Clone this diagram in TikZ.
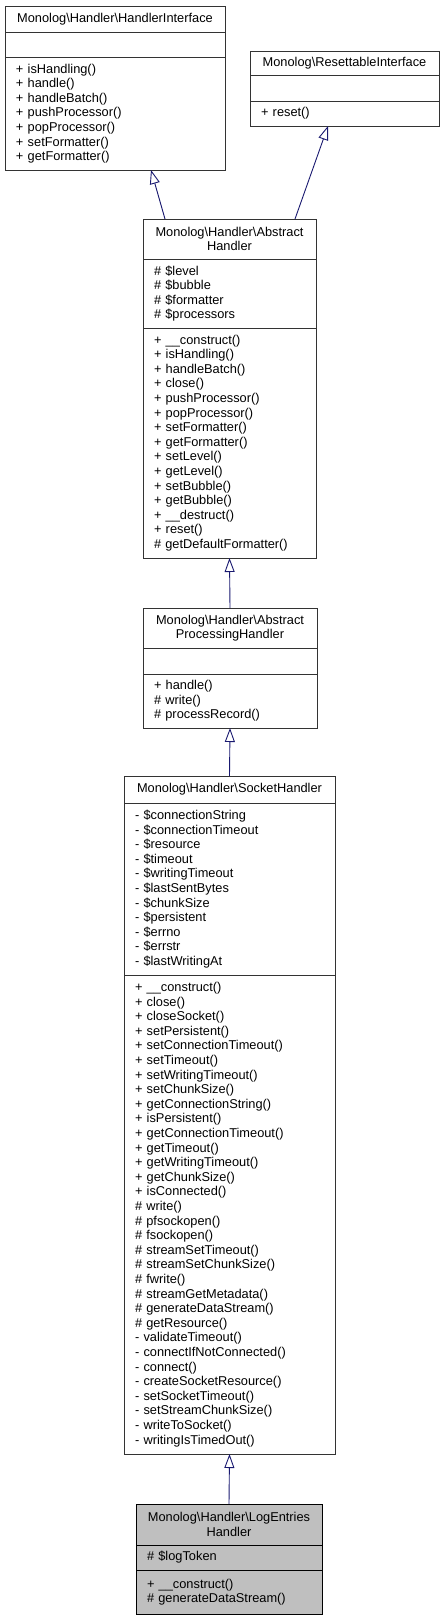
\documentclass[tikz,border=0pt]{standalone}
\usepackage{fontspec}
\setmainfont{Liberation Sans}
\usetikzlibrary{arrows.meta}
\definecolor{edgeblue}{HTML}{191970}
\definecolor{curgray}{HTML}{BFBFBF}
\newcommand{\umlfont}{\fontsize{12.8}{14.6}\selectfont}
\tikzset{classpart/.style={draw=black!80, line width=0.9pt, anchor=north west,
    inner xsep=11pt, inner ysep=0pt, outer sep=0pt, align=left, font=\umlfont}}
\tikzset{classhead/.style={classpart, align=center}}
\tikzset{inherit/.style={draw=edgeblue, line width=0.9pt,
    -{Triangle[open, length=14pt, width=10pt]}}}

\begin{document}
\begin{tikzpicture}[x=1pt,y=-1pt]
\useasboundingbox (0,0) rectangle (445,1616);
% interfaces
\node[classhead, text width=198pt, minimum height=26pt] (hiT) at (5,6) {Monolog\textbackslash Handler\textbackslash HandlerInterface};
\node[classpart, text width=198pt, minimum height=25pt] (hiA) at (hiT.south west) {};
\node[classpart, text width=198pt, minimum height=113pt] (hiM) at (hiA.south west) {+ isHandling()\\+ handle()\\+ handleBatch()\\+ pushProcessor()\\+ popProcessor()\\+ setFormatter()\\+ getFormatter()};
\node[classhead, text width=167pt, minimum height=24pt] (riT) at (250,51) {Monolog\textbackslash ResettableInterface};
\node[classpart, text width=167pt, minimum height=26pt] (riA) at (riT.south west) {};
\node[classpart, text width=167pt, minimum height=25pt] (riM) at (riA.south west) {+ reset()};
% abstract handler
\node[classhead, text width=151pt, minimum height=40pt] (ahT) at (143,219) {Monolog\textbackslash Handler\textbackslash Abstract\\Handler};
\node[classpart, text width=151pt, minimum height=69pt] (ahA) at (ahT.south west) {\# \$level\\\# \$bubble\\\# \$formatter\\\# \$processors};
\node[classpart, text width=151pt, minimum height=230pt] (ahM) at (ahA.south west) {+ \_\_construct()\\+ isHandling()\\+ handleBatch()\\+ close()\\+ pushProcessor()\\+ popProcessor()\\+ setFormatter()\\+ getFormatter()\\+ setLevel()\\+ getLevel()\\+ setBubble()\\+ getBubble()\\+ \_\_destruct()\\+ reset()\\\# getDefaultFormatter()};
% abstract processing handler
\node[classhead, text width=152pt, minimum height=40pt] (aphT) at (143,608) {Monolog\textbackslash Handler\textbackslash Abstract\\ProcessingHandler};
\node[classpart, text width=152pt, minimum height=26pt] (aphA) at (aphT.south west) {};
\node[classpart, text width=152pt, minimum height=54pt] (aphM) at (aphA.south west) {+ handle()\\\# write()\\\# processRecord()};
% socket handler
\node[classhead, text width=189pt, minimum height=27pt] (shT) at (124,776) {Monolog\textbackslash Handler\textbackslash SocketHandler};
\node[classpart, text width=189pt, minimum height=172pt] (shA) at (shT.south west) {- \$connectionString\\- \$connectionTimeout\\- \$resource\\- \$timeout\\- \$writingTimeout\\- \$lastSentBytes\\- \$chunkSize\\- \$persistent\\- \$errno\\- \$errstr\\- \$lastWritingAt};
\node[classpart, text width=189pt, minimum height=479pt] (shM) at (shA.south west) {+ \_\_construct()\\+ close()\\+ closeSocket()\\+ setPersistent()\\+ setConnectionTimeout()\\+ setTimeout()\\+ setWritingTimeout()\\+ setChunkSize()\\+ getConnectionString()\\+ isPersistent()\\+ getConnectionTimeout()\\+ getTimeout()\\+ getWritingTimeout()\\+ getChunkSize()\\+ isConnected()\\\# write()\\\# pfsockopen()\\\# fsockopen()\\\# streamSetTimeout()\\\# streamSetChunkSize()\\\# fwrite()\\\# streamGetMetadata()\\\# generateDataStream()\\\# getResource()\\- validateTimeout()\\- connectIfNotConnected()\\- connect()\\- createSocketResource()\\- setSocketTimeout()\\- setStreamChunkSize()\\- writeToSocket()\\- writingIsTimedOut()};
% log entries handler
\node[classhead, fill=curgray, draw=black, text width=164pt, minimum height=41pt] (lehT) at (136,1504) {Monolog\textbackslash Handler\textbackslash LogEntries\\Handler};
\node[classpart, fill=curgray, draw=black, text width=164pt, minimum height=25pt] (lehA) at (lehT.south west) {\# \$logToken};
\node[classpart, fill=curgray, draw=black, text width=164pt, minimum height=44pt] (lehM) at (lehA.south west) {+ \_\_construct()\\\# generateDataStream()};
% inheritance
\draw[inherit] ([xshift=22pt]ahT.north west) -- ([xshift=146pt]hiM.south west);
\draw[inherit] ([xshift=152pt]ahT.north west) -- ([xshift=78pt]riM.south west);
\draw[inherit] (aphT.north) -- (ahM.south);
\draw[inherit] (shT.north) -- (aphM.south);
\draw[inherit] (lehT.north) -- (shM.south);
\end{tikzpicture}
\end{document}
